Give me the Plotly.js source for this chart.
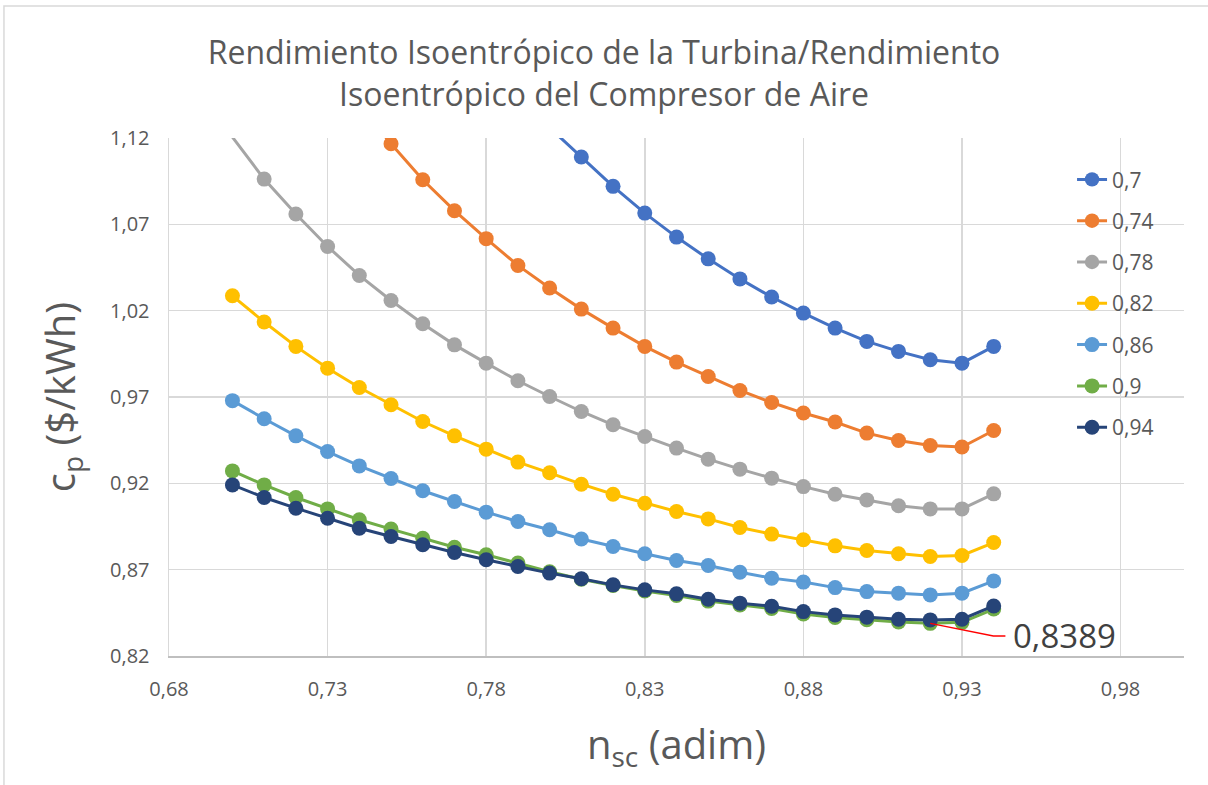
<!DOCTYPE html>
<html>
<head>
<meta charset="utf-8">
<script src="https://cdn.plot.ly/plotly-3.0.1.min.js"></script>
<style>
  html, body { margin: 0; padding: 0; background: #ffffff; }
  #chart { width: 1208px; height: 785px; }
</style>
</head>
<body>
<div id="chart"></div>
<script>
// n_sc values (x)
const nsc = [0.70, 0.71, 0.72, 0.73, 0.74, 0.75, 0.76, 0.77, 0.78, 0.79,
             0.80, 0.81, 0.82, 0.83, 0.84, 0.85, 0.86, 0.87, 0.88, 0.89,
             0.90, 0.91, 0.92, 0.93, 0.94];

// Series names (turbine isentropic efficiency)
const seriesNames = ["0,7", "0,74", "0,78", "0,82", "0,86", "0,9", "0,94"];

// c_p ($/kWh) per series (null = not visible / above the chart)
const cp070 = [null, null, null, null, null, null, null, null, null, null,
               1.126, 1.109, 1.092, 1.0765, 1.0626, 1.050, 1.0384, 1.0279, 1.0186, 1.0099,
               1.0022, 0.9964, 0.9916, 0.9896, 0.9993];
const cp074 = [null, null, null, null, 1.139, 1.1167, 1.0958, 1.0779, 1.0617, 1.0462,
               1.0331, 1.0209, 1.0099, 0.9993, 0.9902, 0.9819, 0.9738, 0.9668, 0.9607, 0.9555,
               0.9491, 0.9448, 0.9419, 0.9410, 0.9506];
const cp078 = [1.1205, 1.0962, 1.0760, 1.0572, 1.0404, 1.0259, 1.0124, 1.0002, 0.9896, 0.9794,
               0.9703, 0.9616, 0.9539, 0.9471, 0.9404, 0.9340, 0.9282, 0.9230, 0.9181, 0.9137,
               0.9104, 0.9070, 0.9052, 0.9052, 0.9139];
const cp082 = [1.0286, 1.0134, 0.9993, 0.9867, 0.9755, 0.9655, 0.9558, 0.9475, 0.9398, 0.9323,
               0.9261, 0.9195, 0.9137, 0.9085, 0.9037, 0.8994, 0.8944, 0.8906, 0.8873, 0.8838,
               0.8811, 0.8792, 0.8776, 0.8782, 0.8857];
const cp086 = [0.9679, 0.9574, 0.9475, 0.9384, 0.9301, 0.9228, 0.9157, 0.9095, 0.9033, 0.8979,
               0.8931, 0.8878, 0.8834, 0.8792, 0.8753, 0.8724, 0.8685, 0.8651, 0.8628, 0.8596,
               0.8573, 0.8564, 0.8554, 0.8564, 0.8635];
const cp090 = [0.9272, 0.9191, 0.9118, 0.9052, 0.8989, 0.8935, 0.8882, 0.8830, 0.8786, 0.8738,
               0.8688, 0.8645, 0.8608, 0.8577, 0.8550, 0.8518, 0.8495, 0.8475, 0.8443, 0.8423,
               0.8410, 0.8397, 0.8389, 0.8395, 0.8472];
const cp094 = [0.9191, 0.9118, 0.9056, 0.8998, 0.8940, 0.8892, 0.8844, 0.8799, 0.8757, 0.8718,
               0.8680, 0.8647, 0.8612, 0.8583, 0.8560, 0.8529, 0.8506, 0.8488, 0.8457, 0.8438,
               0.8425, 0.8413, 0.8409, 0.8413, 0.8490];

// Highlighted minimum
const minX = 0.92;
const minY = 0.8389;
const minLabel = "0,8389";

const allSeries = [cp070, cp074, cp078, cp082, cp086, cp090, cp094];
const colors = ["#4472C4", "#ED7D31", "#A5A5A5", "#FFC000", "#5B9BD5", "#70AD47", "#264478"];

const yMin = 0.82, yMax = 1.12;
const xMin = 0.68, xMax = 1.0;
const MS = 15;

const traces = allSeries.map((ys, i) => ({
  type: "scatter",
  mode: "lines+markers",
  x: nsc,
  y: ys,
  name: seriesNames[i],
  legendgroup: "g" + i,
  line: { color: colors[i], width: 3 },
  marker: {
    color: colors[i],
    opacity: 1,
    // Excel hides markers of points outside the axis range
    size: ys.map(v => (v !== null && v > yMax) ? 0 : MS),
    line: { width: 0 }
  },
  connectgaps: false,
  hoverinfo: "x+y+name"
}));

const fontFam = "'Open Sans', 'Noto Sans', sans-serif";
const gray = "#595959";

const layout = {
  width: 1208,
  height: 785,
  paper_bgcolor: "#ffffff",
  plot_bgcolor: "#ffffff",
  separators: ", ",
  font: { family: fontFam, color: gray },
  margin: { l: 169, r: 24, t: 138, b: 129 },
  title: {
    text: "Rendimiento Isoentrópico de la Turbina/Rendimiento<br>Isoentrópico del Compresor de Aire",
    font: { family: fontFam, size: 32, color: gray },
    x: 0.5, xanchor: "center",
    yref: "container",
    y: 0.918, yanchor: "middle"
  },
  xaxis: {
    range: [xMin, xMax],
    tick0: 0.68, dtick: 0.05,
    tickformat: ".2f",
    showgrid: true, gridcolor: "#d9d9d9", gridwidth: 1.5,
    zeroline: false,
    showline: true, linecolor: "#bfbfbf", linewidth: 1.5,
    ticks: "",
    tickfont: { size: 20, color: gray },
    ticklabelstandoff: 14,
    title: { text: "n<sub>sc</sub> (adim)", font: { size: 40, color: gray }, standoff: 30 }
  },
  yaxis: {
    range: [yMin, yMax],
    tick0: 0.82, dtick: 0.05,
    tickformat: ".2f",
    showgrid: true, gridcolor: "#d9d9d9", gridwidth: 1.5,
    zeroline: false,
    showline: true, linecolor: "#d9d9d9", linewidth: 1.5,
    ticks: "",
    tickfont: { size: 20, color: gray },
    ticklabelstandoff: 14,
    title: { text: "c<sub>p</sub> ($/kWh)", font: { size: 40, color: gray }, standoff: 22 }
  },
  legend: {
    x: 0.8897, xanchor: "left",
    y: 0.959, yanchor: "top",
    bgcolor: "rgba(255,255,255,0)",
    font: { size: 21, color: gray },
    tracegroupgap: 11,
    itemwidth: 30
  },
  shapes: [
    {
      type: "rect", xref: "paper", yref: "paper",
      x0: -0.1626, x1: 1.08, y0: -0.35, y1: 1.2548,
      line: { color: "#d9d9d9", width: 1.5 }, fillcolor: "rgba(0,0,0,0)", layer: "below"
    },
    {
      type: "path", xref: "x", yref: "y",
      path: "M" + minX + "," + minY + " L0.9399,0.8316 L0.9437,0.8316",
      line: { color: "#ff0000", width: 1.5 }
    }
  ],
  annotations: [
    {
      xref: "x", yref: "y",
      x: 0.9455, y: 0.8316,
      xanchor: "left", yanchor: "middle",
      text: minLabel,
      showarrow: false,
      font: { size: 33, color: "#404040", family: fontFam }
    }
  ]
};

Plotly.newPlot("chart", traces, layout, { displayModeBar: false, staticPlot: true });
</script>
</body>
</html>
